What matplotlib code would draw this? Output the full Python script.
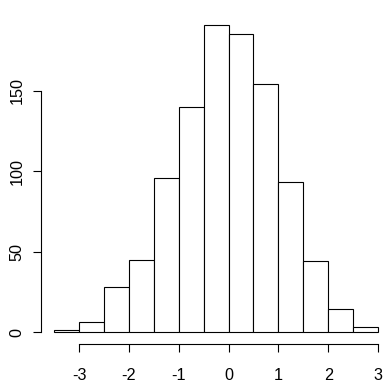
import numpy as np
import matplotlib
matplotlib.use('Agg')
import matplotlib.pyplot as plt

plt.rcParams['font.family'] = ['Liberation Sans', 'DejaVu Sans']

# histogram bins (width 0.5) and counts
breaks = [-3.5, -3.0, -2.5, -2.0, -1.5, -1.0, -0.5, 0.0, 0.5, 1.0, 1.5, 2.0, 2.5, 3.0]
counts = [1, 6, 28, 45, 96, 140, 191, 185, 154, 93, 44, 14, 3]
xticks = [-3, -2, -1, 0, 1, 2, 3]
yticks = [0, 50, 100, 150]

fig = plt.figure(figsize=(3.9, 3.9), dpi=100)
ax = fig.add_axes([41.2/390, (390-344.3)/390, 349.8/390, 331.8/390])

left = np.array(breaks[:-1])
w = np.diff(breaks)
ax.bar(left, counts, width=w, align='edge', color='white', edgecolor='black', linewidth=0.8)

# R style 4% padding
xr = breaks[-1] - breaks[0]
ax.set_xlim(breaks[0] - 0.04*xr, breaks[-1] + 0.04*xr)
ym = max(counts)
ax.set_ylim(-0.04*ym, ym*1.04)

for s in ['top', 'right']:
    ax.spines[s].set_visible(False)
ax.spines['bottom'].set_bounds(xticks[0], xticks[-1])
ax.spines['left'].set_bounds(yticks[0], yticks[-1])
for s in ['bottom', 'left']:
    ax.spines[s].set_linewidth(0.8)

ax.set_xticks(xticks)
ax.set_xticklabels([str(t) for t in xticks])
ax.set_yticks(yticks)
ax.set_yticklabels([str(t) for t in yticks], rotation=90, va='center')
ax.tick_params(axis='both', direction='out', length=6, width=0.8, labelsize=11.7, colors='black')
ax.tick_params(axis='x', pad=11)
ax.tick_params(axis='y', pad=6)

fig.savefig('out.png', dpi=100)
